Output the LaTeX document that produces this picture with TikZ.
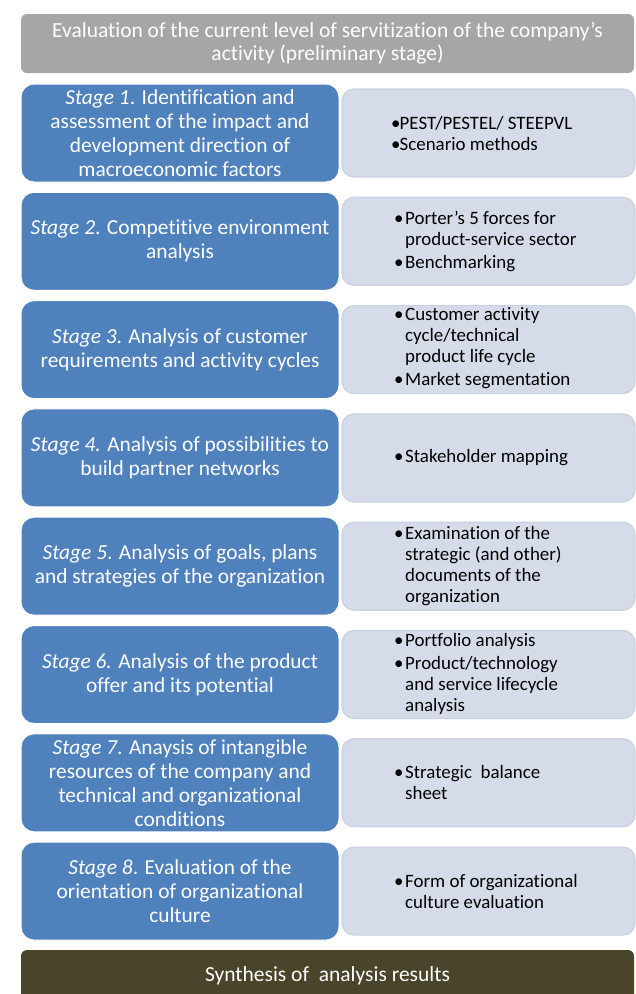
\documentclass[tikz,border=0pt]{standalone}
\usepackage{fontspec}
\setmainfont{Carlito}[Ligatures=CommonOff]

\definecolor{stageblue}{HTML}{4F81BD}
\definecolor{toolfill}{HTML}{D5DBE8}
\definecolor{tooledge}{HTML}{C9D1E2}
\definecolor{headgray}{HTML}{A6A6A6}
\definecolor{synthbrown}{HTML}{4A452A}

\tikzset{
	stagebox/.style={draw=white, line width=1pt, fill=stageblue,
		rounded corners=13pt, minimum width=318pt, minimum height=98pt,
		inner sep=0pt, text=white, align=center,
		font=\fontsize{21.4}{24}\selectfont},
	toolbox/.style={draw=tooledge, line width=1.2pt, fill=toolfill,
		rounded corners=12pt, minimum width=293pt, minimum height=88pt,
		inner sep=0pt},
	toollist/.style={anchor=west, align=left, inner sep=0pt,
		font=\fontsize{18.9}{21}\selectfont},
	banner/.style={rounded corners=6pt, minimum width=613pt, inner sep=0pt,
		text=white, align=center, font=\fontsize{21.5}{23}\selectfont}
}

\newcommand{\bul}{\makebox[11pt][l]{\textbullet}}
\newcommand{\hng}{\makebox[11pt]{}}

\begin{document}
\begin{tikzpicture}[x=1pt, y=-1pt]
		\useasboundingbox (0, 0) rectangle (636, 994);

		\node [banner, fill=headgray, minimum height=59pt] (prelim) at (327.5, 43.5)
		{Evaluation of the current level of servitization of the company's\\
		activity (preliminary stage)};

		\node [stagebox] (s1) at (180, 133) {\textit{Stage 1}. Identification and\\
		assessment of the impact and\\ development direction of\\
		macroeconomic factors};
		\node [toolbox] (t1) at (488.5, 133) {};
		\node [toollist] (l1) at (391, 134)
		{\makebox[8.5pt][l]{\textbullet}PEST/PESTEL/ STEEPVL\\
		\makebox[8.5pt][l]{\textbullet}Scenario methods};

		\node [stagebox] (s2) at (180, 241.3) {\textit{Stage 2}. Competitive environment\\
		analysis};
		\node [toolbox] (t2) at (488.5, 241.3) {};
		\node [toollist] (l2) at (394, 241.3) {\bul Porter's 5 forces for\\
		\hng product-service sector\\[2pt] \bul Benchmarking};

		\node [stagebox] (s3) at (180, 349.6) {\textit{Stage 3}. Analysis of customer\\
		requirements and activity cycles};
		\node [toolbox] (t3) at (488.5, 349.6) {};
		\node [toollist] (l3) at (394, 348) {\bul Customer activity\\
		\hng cycle/technical\\ \hng product life cycle\\[2pt]
		\bul Market segmentation};

		\node [stagebox] (s4) at (180, 457.9) {\textit{Stage 4.} Analysis of possibilities to\\
		build partner networks};
		\node [toolbox] (t4) at (488.5, 457.9) {};
		\node [toollist] (l4) at (394, 458) {\bul Stakeholder mapping};

		\node [stagebox] (s5) at (180, 566.2) {\textit{Stage 5}. Analysis of goals, plans\\
		and strategies of the organization};
		\node [toolbox] (t5) at (488.5, 566.2) {};
		\node [toollist] (l5) at (394, 566) {\bul Examination of the\\
		\hng strategic (and other)\\ \hng documents of the\\ \hng organization};

		\node [stagebox] (s6) at (180, 674.5) {\textit{Stage 6.} Analysis of the product\\
		offer and its potential};
		\node [toolbox] (t6) at (488.5, 674.5) {};
		\node [toollist] (l6) at (394, 674) {\bul Portfolio analysis\\[2pt]
		\bul Product/technology\\ \hng and service lifecycle\\ \hng analysis};

		\node [stagebox] (s7) at (180, 782.8) {\textit{Stage 7}. Anaysis of intangible\\
		resources of the company and\\ technical and organizational\\ conditions};
		\node [toolbox] (t7) at (488.5, 782.8) {};
		\node [toollist] (l7) at (394, 782) {\bul Strategic\ \ balance\\ \hng sheet};

		\node [stagebox] (s8) at (180, 891.1) {\textit{Stage 8}. Evaluation of the\\
		orientation of organizational\\ culture};
		\node [toolbox] (t8) at (488.5, 891.1) {};
		\node [toollist] (l8) at (394, 891) {\bul Form of organizational\\
		\hng culture evaluation};

		\node [banner, fill=synthbrown, minimum height=52pt] (synth) at (327.5, 976)
		{Synthesis of\ \ analysis results};
	\end{tikzpicture}
\end{document}
